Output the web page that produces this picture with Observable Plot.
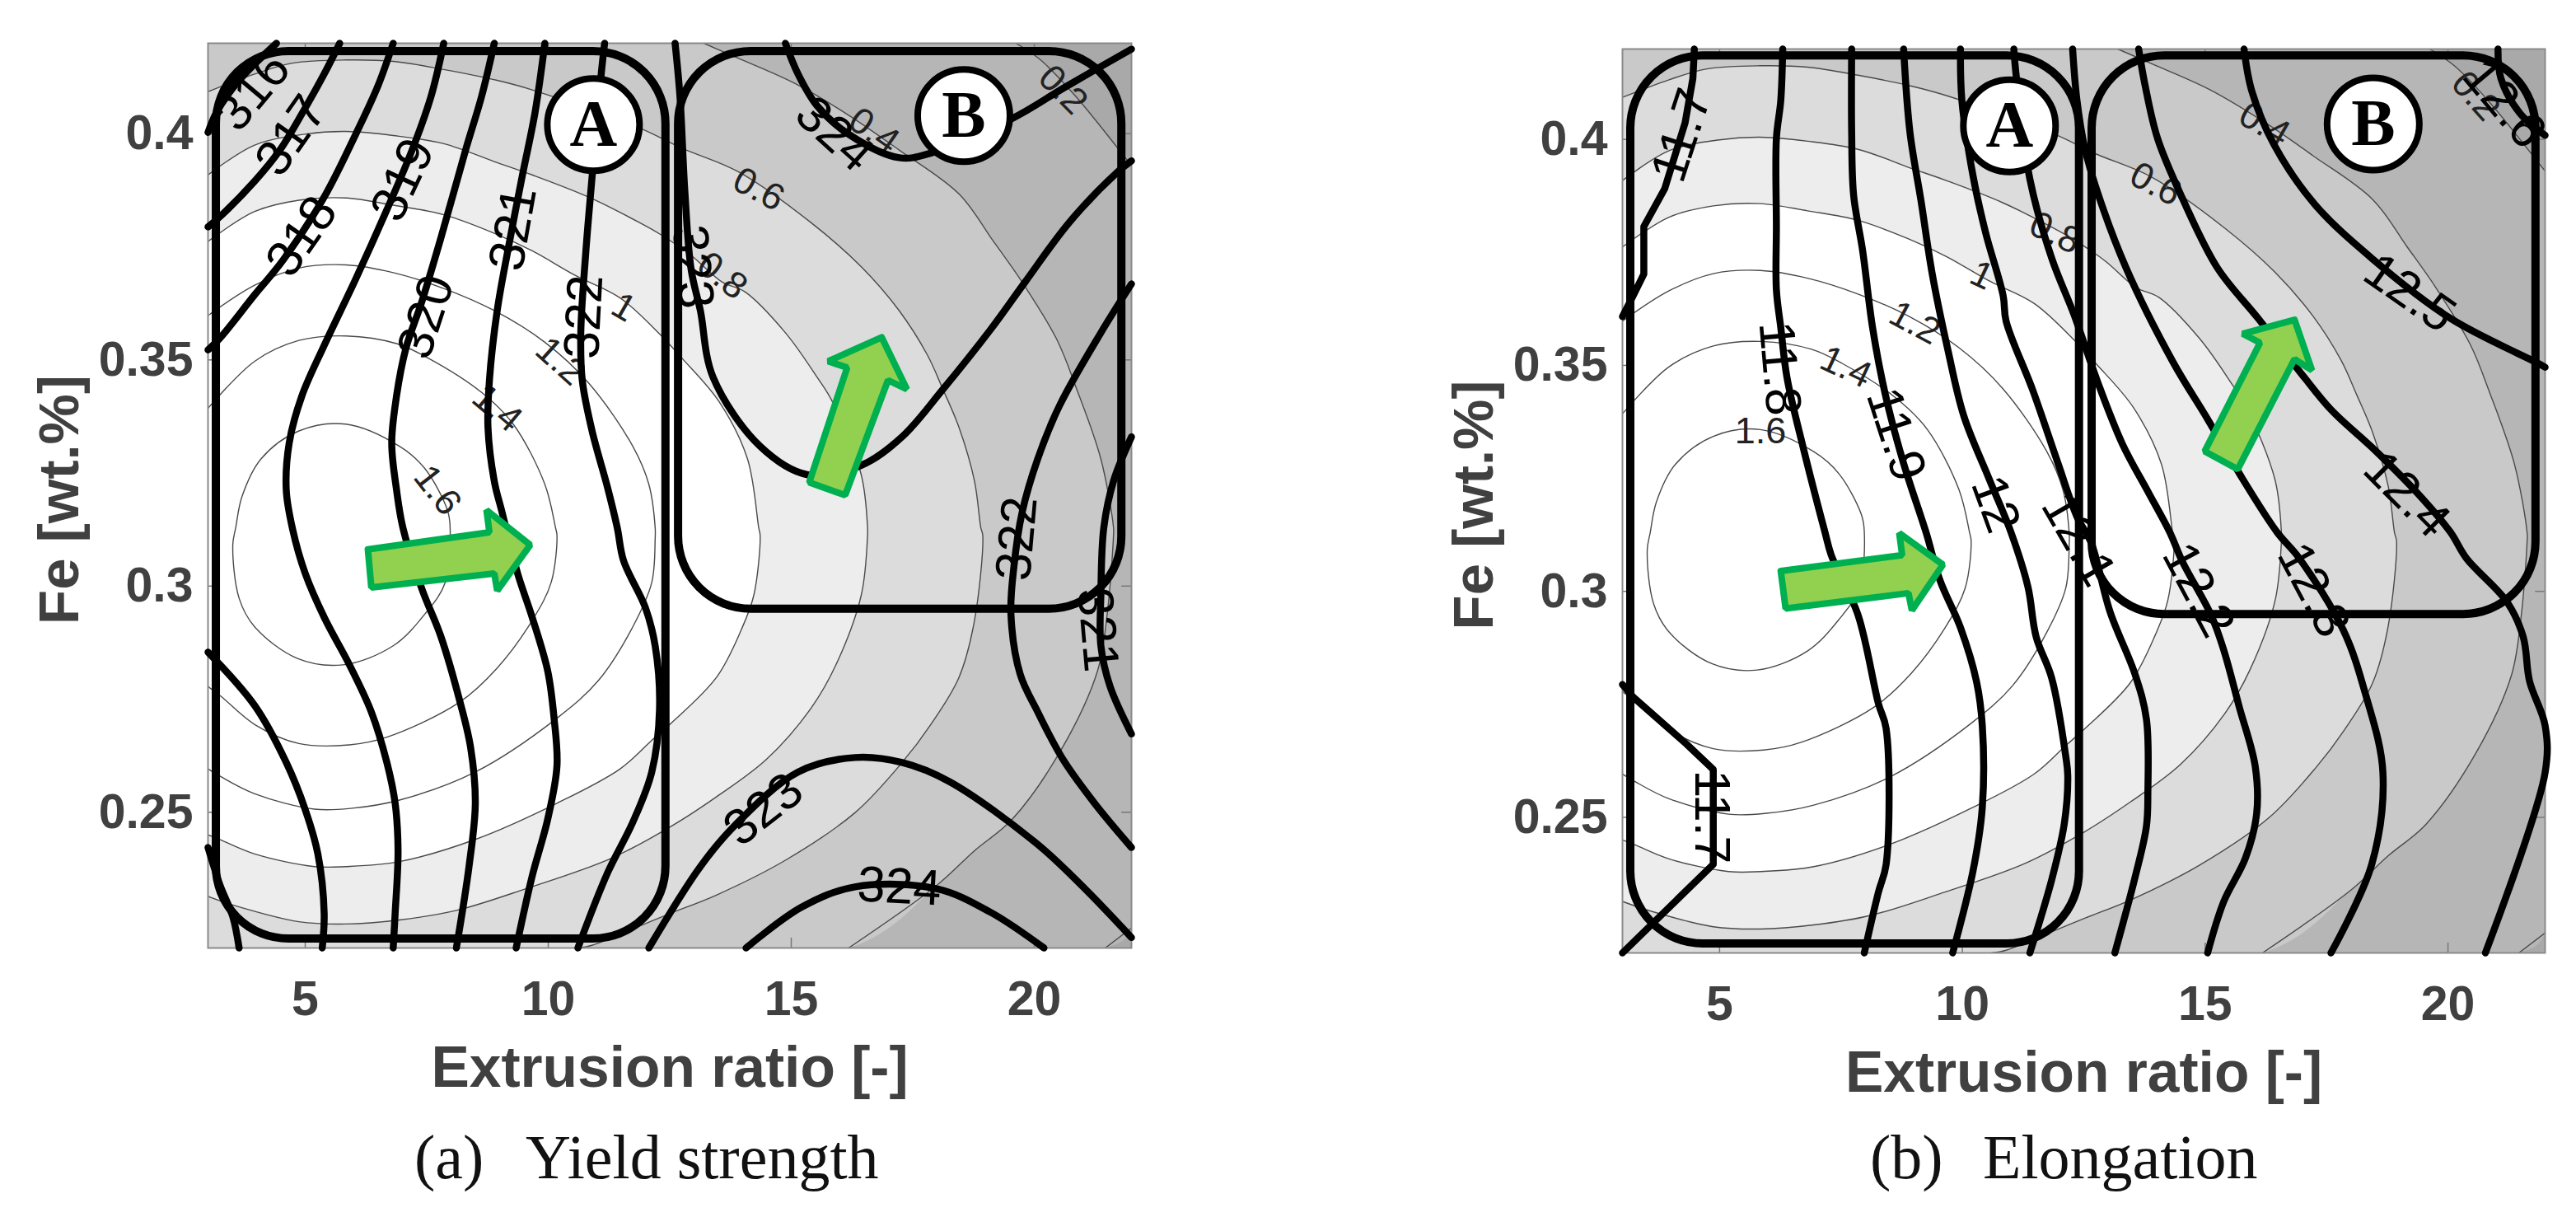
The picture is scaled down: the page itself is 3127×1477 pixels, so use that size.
<!DOCTYPE html>
<html><head><meta charset="utf-8">
<script src="https://cdn.jsdelivr.net/npm/d3@7"></script>
<script src="https://cdn.jsdelivr.net/npm/@observablehq/plot@0.6"></script>
<style>
html,body{margin:0;padding:0;background:#fff}
#page{position:relative;width:3127px;height:1477px;overflow:hidden}
.panel{position:absolute;top:0}
.cap{position:absolute;font-family:"Liberation Serif",serif;font-size:76px;line-height:1;color:#111;white-space:pre}
</style></head><body>
<div id="page"></div>
<script>
// Scale breaks
const xTicks=[5,10,15,20];
const yTicks=[0.25,0.3,0.35,0.4];
// Background contour levels (shared by both panels)
const level16=[[3.57,.3129],[3.7,.3198],[4.09,.3281],[4.87,.3343],[5.84,.3358],[6.94,.3309],[7.46,.326],[7.92,.317],[7.98,.3133],[7.88,.3008],[7.46,.2938],[6.81,.2868],[5.78,.2826],[4.84,.284],[3.96,.291],[3.64,.2973],[3.51,.3091]];
const level14=[[3,.3393],[3.96,.3497],[4.87,.3543],[5.84,.3553],[6.88,.3536],[7.53,.3504],[8.63,.3428],[9.28,.3358],[9.93,.3225],[10.15,.3129],[10.18,.3112],[10.06,.3008],[9.67,.2924],[8.95,.2819],[8.17,.2743],[6.68,.2666],[5.91,.2649],[4.87,.2652],[3.96,.2694],[3.26,.2757],[3,.2778]];
const level12=[[3,.3598],[3.96,.3665],[4.87,.3703],[5.84,.371],[6.81,.3693],[7.85,.3658],[8.89,.3609],[9.93,.3539],[10.83,.3449],[11.74,.3309],[12.07,.3225],[12.2,.3129],[12.2,.3105],[12.13,.3008],[11.74,.291],[11.03,.2791],[10.18,.2708],[8.5,.2589],[6.94,.2527],[5.97,.2509],[5.19,.2507],[3.96,.2541],[3.26,.2579],[3,.2596]];
const level10=[[3,.3762],[3.96,.3828],[4.87,.3853],[5.84,.3858],[6.81,.3842],[7.85,.3821],[8.89,.378],[9.67,.3741],[10.57,.3686],[11.48,.3637],[12.33,.3553],[12.75,.3504],[13.52,.3407],[14.1,.3281],[14.33,.3129],[14.36,.3112],[14.23,.298],[13.97,.2903],[13.46,.2798],[12.5,.2694],[12.13,.2659],[11.48,.2596],[10.18,.252],[8.5,.244],[6.94,.2391],[5.84,.238],[5.19,.238],[3.96,.2408],[3.26,.2439],[3,.245]];
const level08=[[3,.3909],[3.96,.3975],[5,.3999],[5.84,.4005],[6.81,.3996],[7.85,.3978],[8.95,.3936],[9.67,.3909],[10.83,.386],[11.87,.3804],[12.33,.3776],[12.94,.3731],[13.58,.3672],[14.04,.3651],[14.88,.356],[15.53,.3462],[15.85,.3407],[16.44,.3246],[16.57,.3129],[16.57,.3112],[16.44,.298],[15.92,.2826],[15.4,.2729],[14.49,.2617],[13.46,.2534],[12.5,.2467],[11.29,.2398],[9.54,.2331],[8.11,.2283],[6.94,.2262],[5.84,.2253],[4.87,.2258],[3.57,.2293],[3,.2314]];
const level06=[[3,.4093],[3.96,.4132],[4.74,.4156],[5.84,.4163],[6.81,.416],[7.85,.4142],[8.95,.4118],[9.67,.4097],[11.87,.4013],[12.75,.3968],[13.91,.3916],[15.4,.3804],[16.44,.3706],[17.22,.3609],[17.8,.3511],[18.12,.3435],[18.45,.3351],[18.77,.3232],[18.9,.3129],[18.94,.3112],[18.77,.2924],[18.45,.2798],[17.87,.2694],[17.28,.261],[16.31,.2499],[14.88,.2394],[13.46,.2317],[12.5,.2276],[11.87,.2248],[10.9,.2206],[10.6,.22]];
const level04=[[13.2,.42],[13.91,.4167],[15.08,.4111],[16.18,.4041],[17.22,.3964],[18.45,.3867],[19.16,.3762],[19.75,.3672],[20.46,.3546],[20.85,.3442],[21.37,.3281],[21.63,.3129],[21.63,.3112],[21.5,.2938],[21.3,.2812],[20.59,.2645],[19.55,.2485],[18.77,.2415],[17.99,.2338],[16.18,.22]];
const level02a=[[19.62,.42],[20.13,.4163],[20.85,.4083],[21.72,.3968],[22,.393]];
const level02b=[[22,.2244],[21.46,.22]];
const lowerLeft=[[3,.22]];
const upperLeft=[[3,.42]];
const bandLevels=[
  {pts:level02a.concat(level02b,lowerLeft,upperLeft),fill:"#b6b6b6"},
  {pts:level04.concat(lowerLeft,upperLeft),fill:"#c9c9c9"},
  {pts:level06.concat(lowerLeft),fill:"#dcdcdc"},
  {pts:level08,fill:"#ededed"},
  {pts:level10,fill:"#ffffff"}
];
const thinLines=[level14,level12,level10,level08,level06,level04,level02a,level02b];
// Yield strength contours
const ys316=[[3,.4003],[3.18,.4048],[3.64,.4118],[4.41,.42]];
const ys317=[[3,.3794],[3.26,.3818],[3.96,.3895],[4.48,.3964],[4.99,.4055],[5.39,.4132],[5.71,.42]];
const ys317b=[[3,.2422],[3.25,.2338],[3.51,.2269],[3.64,.22]];
const ys318=[[3,.3522],[3.26,.355],[3.96,.3644],[4.54,.372],[5.39,.386],[6.04,.3999],[6.49,.4104],[6.81,.42]];
const ys318b=[[3,.2854],[3.96,.2736],[4.61,.261],[5,.2506],[5.26,.2408],[5.39,.2276],[5.35,.22]];
const ys319=[[7.85,.42],[7.59,.4083],[7.2,.3964],[6.68,.3832],[6.04,.3679],[5.39,.3532],[4.93,.342],[4.67,.3316],[4.61,.3212],[4.74,.3126],[5,.3028],[5.39,.2931],[5.91,.2826],[6.36,.2722],[6.68,.261],[6.85,.252],[6.91,.2415],[6.85,.2276],[6.81,.22]];
const ys320=[[8.89,.42],[8.63,.4083],[8.3,.3964],[7.79,.3769],[7.4,.3629],[7.07,.3525],[6.88,.3421],[6.78,.3316],[6.88,.3212],[7.01,.3129],[7.4,.2994],[7.79,.2889],[8.17,.275],[8.4,.2645],[8.5,.252],[8.37,.238],[8.11,.22]];
const ys321=[[9.93,.42],[9.73,.4048],[9.47,.3909],[9.18,.3748],[8.95,.3609],[8.79,.3455],[8.76,.3351],[8.89,.3232],[9.05,.3163],[9.37,.3028],[9.67,.2931],[9.99,.2812],[10.12,.2708],[10.18,.2603],[9.99,.2485],[9.67,.2359],[9.34,.22]];
const ys322=[[11.16,.42],[11.09,.4132],[10.9,.3902],[10.77,.3734],[10.67,.356],[10.7,.3455],[10.9,.3344],[11.22,.3218],[11.42,.3129],[11.55,.3056],[12,.2952],[12.2,.2868],[12.29,.2729],[12.13,.2589],[11.74,.2478],[11.22,.2366],[10.61,.22]];
const ys323=[[12.61,.42],[12.71,.4083],[12.81,.3874],[12.94,.37],[13.13,.3609],[13.39,.3462],[14.36,.3309],[15.34,.3246],[16.44,.3267],[17.28,.333],[18.12,.3435],[19.1,.3567],[19.81,.3672],[20.72,.3804],[21.72,.3916],[22,.394]];
const ys324=[[14.88,.42],[15.14,.4132],[15.53,.4062],[16.18,.3999],[17.22,.3947],[17.87,.3957],[19.55,.4034],[20.65,.4104],[22,.4187]];
const ys322b=[[22,.3668],[21.37,.356],[20.52,.3399],[20.07,.3281],[19.75,.3163],[19.58,.3042],[19.52,.2938],[19.71,.2805],[20.07,.2722],[20.59,.2617],[21.24,.252],[22,.2422]];
const ys321b=[[22,.333],[21.63,.3232],[21.43,.3129],[21.37,.298],[21.37,.2868],[21.56,.2778],[22,.2673]];
const ys323c=[[12.07,.22],[13.13,.238],[13.84,.2471],[15.14,.2589],[16.31,.2621],[17.28,.261],[18.25,.2568],[20.07,.2429],[21.04,.2331],[22,.2223]];
const ys324c=[[14.07,.22],[15.21,.229],[16.31,.2335],[17.99,.2331],[19.1,.2279],[20.2,.22]];
const ysCurves=[ys316,ys317,ys317b,ys318,ys318b,ys319,ys320,ys321,ys322,ys323,ys324,ys322b,ys321b,ys323c,ys324c];
const ysBoldLabels=[[3.93,.4093,"316",-50],[4.71,.3996,"317",-55],[4.93,.3773,"318",-55],[7.01,.3898,"319",-65],[7.49,.3595,"320",-72],[9.28,.379,"321",-80],[10.74,.3595,"322",-87],[12.97,.3706,"323",85],[15.89,.3999,"324",42],[19.65,.3105,"322",-85],[21.3,.2903,"321",85],[14.43,.2506,"323",-38],[17.22,.2335,"324",3]];
const ysThinLabels=[[11.55,.3616,"1",30],[10.25,.3497,"1.2",42],[8.95,.3393,"1.4",40],[7.72,.3212,"1.6",52],[13.58,.3686,"0.8",38],[14.33,.3877,"0.6",28],[16.7,.4006,"0.4",35],[20.59,.4097,"0.2",45]];
const ysArrowA=[[6.29,.3081],[8.79,.3119],[8.73,.3168],[9.63,.3091],[8.95,.299],[8.89,.3028],[6.36,.2997],[6.29,.3081]];
const ysArrowB=[[16.86,.355],[15.76,.3497],[16.15,.3483],[15.37,.3229],[16.11,.3201],[16.99,.3455],[17.38,.3435],[16.86,.355]];
const ysBoxes=[[3.17,12.42,.222,.4182],[12.68,21.8,.2949,.4182]];
const ysBadges=[[10.93,.402,"A"],[18.55,.404,"B"]];
// Elongation contours
const el117=[[4.48,.42],[4.45,.4135],[4.29,.4037],[3.99,.3933],[3.87,.3891],[3.44,.3807],[3.44,.3702],[3.22,.3654],[3,.3608]];
const el117b=[[3,.2794],[3.22,.2766],[4.32,.2662],[4.87,.2606],[4.87,.2396],[3,.22]];
const el118=[[6.3,.42],[6.26,.4086],[6.17,.4002],[6.17,.3807],[6.17,.3667],[6.26,.3584],[6.39,.3472],[6.72,.3319],[7.17,.3131],[7.3,.308],[7.85,.2948],[8.27,.2752],[8.43,.2696],[8.43,.2396],[8.27,.2334],[7.98,.22]];
const el119=[[7.72,.42],[7.72,.4016],[7.76,.3877],[7.95,.3751],[8.15,.3584],[8.41,.3437],[8.79,.3283],[9.25,.3131],[9.54,.3024],[9.96,.292],[10.29,.2801],[10.41,.2703],[10.41,.2522],[10.22,.2382],[9.8,.22]];
const el120=[[8.79,.42],[8.92,.4016],[9.15,.3863],[9.38,.3702],[9.7,.3535],[10.03,.3388],[10.55,.3249],[11,.3131],[11.35,.301],[11.52,.2899],[11.84,.2808],[12.13,.2634],[12.17,.2592],[12.1,.2487],[11.84,.2362],[11.39,.22]];
const el121=[[9.96,.42],[9.99,.4086],[10.22,.3919],[10.48,.3793],[10.84,.3654],[10.9,.3598],[11.45,.3445],[11.97,.3283],[12.36,.3165],[12.65,.3108],[13.04,.2955],[13.56,.2815],[13.79,.2717],[13.82,.2557],[13.79,.248],[13.56,.2369],[13.14,.22]];
const el122=[[11.06,.42],[11.1,.4149],[11.39,.3912],[11.84,.3737],[12.3,.3612],[12.78,.3465],[13.3,.3325],[13.82,.3221],[14.27,.3131],[14.53,.3066],[15.12,.2948],[15.38,.2871],[15.7,.2745],[16.03,.2613],[16.06,.2508],[15.83,.241],[15.38,.2313],[15.05,.22]];
const el123=[[12.27,.42],[12.36,.4086],[12.52,.3981],[12.78,.3884],[13.37,.3716],[14.34,.3507],[15.05,.3381],[15.77,.3249],[16.48,.3131],[16.94,.3073],[17.85,.2913],[18.3,.2773],[18.66,.2599],[18.43,.2396],[17.59,.22]];
const el124=[[13.63,.42],[13.76,.4121],[14.02,.4002],[14.53,.387],[15.25,.3716],[16.09,.3604],[17,.3479],[17.59,.3402],[18.5,.3312],[19.4,.3214],[20.05,.3131],[20.38,.3073],[21.22,.2976],[21.55,.2899],[21.68,.2801],[22,.2703],[22,.2599],[20.77,.22]];
const el125=[[15.8,.42],[15.96,.4107],[16.42,.3988],[17.26,.3856],[18.43,.3737],[20.05,.3604],[21.81,.3507],[22,.3496]];
const el126=[[21.03,.42],[21.09,.4135],[21.48,.4058],[22,.4009]];
const elCurves=[el118,el119,el120,el121,el122,el123,el124,el125,el126];
const elKinked=[el117,el117b];
const elBoldLabels=[[4.22,.4009,"11.7",-72],[4.84,.2501,"11.7",90],[6.23,.3493,"11.8",85],[8.63,.3347,"11.9",72],[10.68,.3193,"12",70],[12.39,.3115,"12.1",60],[14.86,.3003,"12.2",62],[17.23,.3003,"12.3",62],[19.15,.3214,"12.4",45],[19.21,.366,"12.5",35],[21.16,.4079,"12.6",50]];
const elThinLabels=[[20.57,.4096,"0.2",48],[16.22,.4033,"0.4",30],[13.98,.3901,"0.6",28],[11.91,.3793,"0.8",25],[10.4,.3699,"1",25],[9.02,.3594,"1.2",28],[7.6,.3496,"1.4",25],[5.84,.3353,"1.6",0]];
const elArrowA=[[6.26,.3045],[8.76,.308],[8.7,.3129],[9.6,.3059],[8.96,.2958],[8.89,.2996],[6.36,.2962],[6.26,.3045]];
const elArrowB=[[16.84,.3601],[15.77,.357],[16.13,.355],[14.99,.331],[15.67,.327],[16.84,.3514],[17.2,.3489],[16.84,.3601]];
const elBoxes=[[3.17,12.41,.222,.4185],[12.67,21.81,.2949,.4185]];
const elBadges=[[10.97,.403,"A"],[18.46,.4034,"B"]];

const X=d=>d[0],Y=d=>d[1];
const sans='"Liberation Sans",Arial,sans-serif', serif='"Liberation Serif",serif';
function panel(o){
  const marks=[
    Plot.rect([[3,22,.22,.42]],{x1:d=>d[0],x2:d=>d[1],y1:d=>d[2],y2:d=>d[3],fill:"#a9a9a9"}),
    ...bandLevels.map(b=>Plot.line(b.pts,{x:X,y:Y,curve:"catmull-rom",fill:b.fill,stroke:"none",clip:"frame"})),
    ...thinLines.map(l=>Plot.line(l,{x:X,y:Y,curve:"catmull-rom",stroke:"#4a4a4a",strokeWidth:1.4,clip:"frame"})),
    Plot.line(level16,{x:X,y:Y,curve:"catmull-rom-closed",stroke:"#4a4a4a",strokeWidth:1.4}),
    Plot.ruleX(xTicks,{y1:.22,y2:.2222,stroke:"#777",strokeWidth:1.5}),
    Plot.ruleX(xTicks,{y1:.42,y2:.4178,stroke:"#777",strokeWidth:1.5}),
    Plot.ruleY(yTicks,{x1:3,x2:3.2,stroke:"#777",strokeWidth:1.5}),
    Plot.ruleY(yTicks,{x1:22,x2:21.8,stroke:"#777",strokeWidth:1.5}),
    Plot.frame({stroke:"#8a8a8a",strokeWidth:2}),
    Plot.axisX({ticks:xTicks,tickSize:0,tickPadding:40,label:null,tickFormat:d=>String(d),fontSize:59,fontWeight:"bold",fill:"#404040"}),
    Plot.axisY({ticks:yTicks,tickSize:0,tickPadding:18,label:null,tickFormat:d=>String(d),fontSize:59,fontWeight:"bold",fill:"#404040"}),
    Plot.text(["Extrusion ratio [-]"],{frameAnchor:"bottom",lineAnchor:"middle",dy:146,fontSize:69.5,fontWeight:"bold",fill:"#404040"}),
    Plot.text(["Fe [wt.%]"],{frameAnchor:"left",lineAnchor:"middle",textAnchor:"middle",rotate:-90,dx:-180,dy:5,fontSize:69,fontWeight:"bold",fill:"#404040"}),
    Plot.text(o.thin,{x:d=>d[0],y:d=>d[1],text:d=>d[2],rotate:d=>d[3],fontSize:45,fill:"#222"}),
    ...o.curves.map(l=>Plot.line(l,{x:X,y:Y,curve:"catmull-rom",stroke:"#000",strokeWidth:8.5})),
    ...(o.kinked||[]).map(l=>Plot.line(l,{x:X,y:Y,stroke:"#000",strokeWidth:8.5})),
    Plot.text(o.bold,{x:d=>d[0],y:d=>d[1],text:d=>d[2],rotate:d=>d[3],fontSize:61,fill:"#000"}),
    Plot.rect(o.boxes,{x1:d=>d[0],x2:d=>d[1],y1:d=>d[2],y2:d=>d[3],rx:88,ry:88,fill:"none",stroke:"#000",strokeWidth:10}),
    Plot.dot(o.badges,{x:d=>d[0],y:d=>d[1],r:56,fill:"#fff",stroke:"#000",strokeWidth:8}),
    Plot.text(o.badges,{x:d=>d[0],y:d=>d[1],text:d=>d[2],fontFamily:serif,fontWeight:"bold",fontSize:80,fill:"#000",lineAnchor:"middle"}),
    ...o.arrows.map(a=>Plot.line(a,{x:X,y:Y,fill:"#92D050",stroke:"#00B050",strokeWidth:8,strokeLinejoin:"miter"}))
  ];
  return Plot.plot({width:o.width,height:1340,marginLeft:o.ml,marginRight:o.mr,marginTop:o.mt,marginBottom:1340-o.bottom,
    style:{fontFamily:sans,background:"transparent",overflow:"visible"},
    x:{domain:[3,22]},y:{domain:[.22,.42]},marks});
}
const page=document.getElementById("page");
function addPanel(left,cfg){const d=document.createElement("div");d.className="panel";d.style.left=left+"px";d.appendChild(panel(cfg));page.appendChild(d);}
addPanel(0,{width:1564,ml:252,mr:191,mt:52,bottom:1150,curves:ysCurves,bold:ysBoldLabels,thin:ysThinLabels,arrows:[ysArrowA,ysArrowB],boxes:ysBoxes,badges:ysBadges});
addPanel(1564,{width:1563,ml:405,mr:38,mt:59,bottom:1156,curves:elCurves,kinked:elKinked,bold:elBoldLabels,thin:elThinLabels,arrows:[elArrowA,elArrowB],boxes:elBoxes,badges:elBadges});
const captions=[{t:"(a)",x:503},{t:"Yield strength",x:638},{t:"(b)",x:2270},{t:"Elongation",x:2407}];
captions.forEach(c=>{const s=document.createElement("div");s.className="cap";s.textContent=c.t;s.style.left=c.x+"px";s.style.top="1366px";page.appendChild(s);});
</script>
</body></html>
